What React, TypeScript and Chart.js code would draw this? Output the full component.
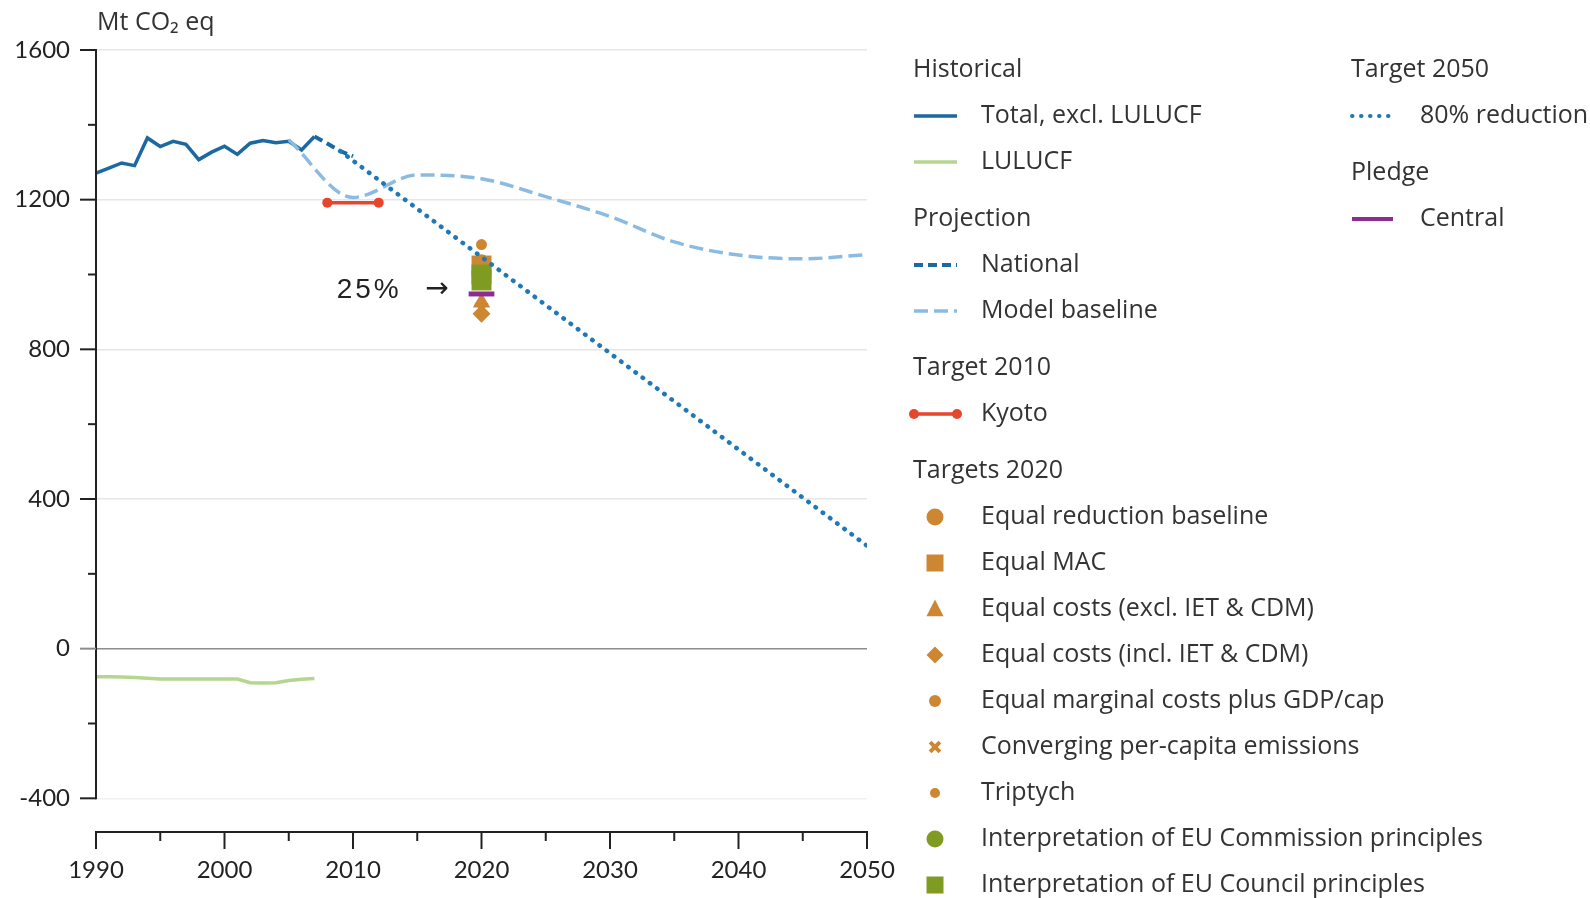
import React, { useEffect, useRef } from 'react';
import { Chart, registerables } from 'chart.js';

Chart.register(...registerables);

// ---------------- data ----------------
const histYears = [1990, 1991, 1992, 1993, 1994, 1995, 1996, 1997, 1998, 1999, 2000, 2001, 2002, 2003, 2004, 2005, 2006, 2007];
const totalExclLulucf = [1271, 1284, 1298, 1291, 1365, 1342, 1356, 1348, 1307, 1327, 1343, 1321, 1351, 1358, 1352, 1356, 1333, 1369];
const lulucfValues = [-75, -75, -76, -77, -79, -81, -81, -81, -81, -81, -81, -81, -91, -92, -91, -85, -82, -80];

const nationalYears = [2007, 2008, 2009, 2010];
const nationalValues = [1369, 1350, 1330, 1316];

const baselineYears = [2005, 2010, 2015, 2020, 2025, 2030, 2035, 2040, 2045, 2050];
const baselineValues = [1360, 1206, 1266, 1256, 1208, 1155, 1087, 1052, 1042, 1053];

const reductionYears = [2009, 2050];
const reductionValues = [1330, 275];

const kyotoYears = [2008, 2012];
const kyotoValues = [1192, 1192];

const pledgeYears = [2019, 2021];
const pledgeValues = [948, 948];

const targetYear = 2020;
const eqReductionBaseline = [1030];
const eqMAC = [1024];
const eqCostsExcl = [925];
const eqCostsIncl = [895];
const eqMarginalGdp = [1035];
const convergingPerCapita = [910];
const triptychValues = [1080];
const euCommission = [990];
const euCouncil = [1000, 984];

const xTickValues = [1990, 1995, 2000, 2005, 2010, 2015, 2020, 2025, 2030, 2035, 2040, 2045, 2050];
const xTickLabels = ['1990', '', '2000', '', '2010', '', '2020', '', '2030', '', '2040', '', '2050'];
const yTickValues = [-400, -200, 0, 200, 400, 600, 800, 1000, 1200, 1400, 1600];
const yTickLabels = ['-400', '', '0', '', '400', '', '800', '', '1200', '', '1600'];

const unitTitle = 'Mt CO₂ eq';
const pledgeNote = '25%';

// ---------------- styles ----------------
const ORANGE = '#cd8733';
const GREEN = '#7f9b21';
const FONT = 'Lato, "Open Sans", sans-serif';
const LEGEND_FONT = '"Open Sans", Lato, sans-serif';
const TEXT = '#333333';

const pts = (xs: number[], ys: number[]) => xs.map((x, i) => ({ x, y: ys[i] }));
const at2020 = (ys: number[]) => ys.map((y) => ({ x: targetYear, y }));

function buildDatasets(): any[] {
  return [
    { key: 'pledge', label: 'Central', type: 'line', data: pts(pledgeYears, pledgeValues), borderColor: '#8c2d8f', borderWidth: 5, pointRadius: 0, order: 0 },
    { key: 'reduction', label: '80% reduction', type: 'line', data: pts(reductionYears, reductionValues), borderColor: '#2079b6', borderWidth: 4.5, borderDash: [0.5, 8.5], borderCapStyle: 'round', pointRadius: 0, order: 1 },
    { key: 'trip', label: 'Triptych', type: 'scatter', data: at2020(triptychValues), pointStyle: 'circle', pointRadius: 5.5, backgroundColor: ORANGE, pointBackgroundColor: ORANGE, pointBorderWidth: 0, order: 2, lgR: 5 },
    { key: 'council', label: 'Interpretation of EU Council principles', type: 'scatter', data: at2020(euCouncil), pointStyle: 'rect', pointRadius: 14.1, backgroundColor: GREEN, pointBackgroundColor: GREEN, pointBorderWidth: 0, order: 3, lgR: 8.5 },
    { key: 'comm', label: 'Interpretation of EU Commission principles', type: 'scatter', data: at2020(euCommission), pointStyle: 'circle', pointRadius: 9, backgroundColor: GREEN, pointBackgroundColor: GREEN, pointBorderWidth: 0, order: 4, lgR: 8.5 },
    { key: 'eqMAC', label: 'Equal MAC', type: 'scatter', data: at2020(eqMAC), pointStyle: 'rect', pointRadius: 14.1, backgroundColor: ORANGE, pointBackgroundColor: ORANGE, pointBorderWidth: 0, order: 5, lgR: 8.5 },
    { key: 'eqMarg', label: 'Equal marginal costs plus GDP/cap', type: 'scatter', data: at2020(eqMarginalGdp), pointStyle: 'circle', pointRadius: 6, backgroundColor: ORANGE, pointBackgroundColor: ORANGE, pointBorderWidth: 0, order: 6, lgR: 6 },
    { key: 'eqRed', label: 'Equal reduction baseline', type: 'scatter', data: at2020(eqReductionBaseline), pointStyle: 'circle', pointRadius: 9, backgroundColor: ORANGE, pointBackgroundColor: ORANGE, pointBorderWidth: 0, order: 7, lgR: 8.5 },
    { key: 'eqExcl', label: 'Equal costs (excl. IET & CDM)', type: 'scatter', data: at2020(eqCostsExcl), pointStyle: 'triangle', pointRadius: 10, backgroundColor: ORANGE, pointBackgroundColor: ORANGE, pointBorderWidth: 0, order: 8, lgR: 9.5 },
    { key: 'conv', label: 'Converging per-capita emissions', type: 'scatter', data: at2020(convergingPerCapita), pointStyle: 'crossRot', pointRadius: 8, borderColor: ORANGE, pointBorderColor: ORANGE, pointBorderWidth: 4, order: 9, lgR: 7 },
    { key: 'eqIncl', label: 'Equal costs (incl. IET & CDM)', type: 'scatter', data: at2020(eqCostsIncl), pointStyle: 'rectRot', pointRadius: 9, backgroundColor: ORANGE, pointBackgroundColor: ORANGE, pointBorderWidth: 0, order: 10, lgR: 8.5 },
    { key: 'kyoto', label: 'Kyoto', type: 'line', data: pts(kyotoYears, kyotoValues), borderColor: '#e7452c', borderWidth: 3.5, pointRadius: 5, pointBackgroundColor: '#e7452c', pointBorderWidth: 0, order: 11 },
    { key: 'national', label: 'National', type: 'line', data: pts(nationalYears, nationalValues), borderColor: '#1b69a0', borderWidth: 4, borderDash: [9, 5], pointRadius: 0, order: 12 },
    { key: 'baseline', label: 'Model baseline', type: 'line', data: pts(baselineYears, baselineValues), borderColor: '#8bbbe3', borderWidth: 3.5, borderDash: [14, 6], cubicInterpolationMode: 'monotone', pointRadius: 0, order: 13 },
    { key: 'total', label: 'Total, excl. LULUCF', type: 'line', data: pts(histYears, totalExclLulucf), borderColor: '#1b69a0', borderWidth: 3.5, pointRadius: 0, order: 14 },
    { key: 'lulucf', label: 'LULUCF', type: 'line', data: pts(histYears, lulucfValues), borderColor: '#b5d690', borderWidth: 3.5, pointRadius: 0, order: 15 },
  ];
}

const legendCol1 = [
  { header: 'Historical' }, { key: 'total' }, { key: 'lulucf' },
  { header: 'Projection' }, { key: 'national' }, { key: 'baseline' },
  { header: 'Target 2010' }, { key: 'kyoto' },
  { header: 'Targets 2020' }, { key: 'eqRed' }, { key: 'eqMAC' }, { key: 'eqExcl' }, { key: 'eqIncl' },
  { key: 'eqMarg' }, { key: 'conv' }, { key: 'trip' }, { key: 'comm' }, { key: 'council' },
];
const legendCol2 = [
  { header: 'Target 2050' }, { key: 'reduction' },
  { header: 'Pledge' }, { key: 'pledge' },
];

function drawMarker(ctx: CanvasRenderingContext2D, style: string, x: number, y: number, r: number, color: string) {
  ctx.save();
  ctx.fillStyle = color;
  ctx.strokeStyle = color;
  ctx.beginPath();
  if (style === 'circle') {
    ctx.arc(x, y, r, 0, Math.PI * 2);
    ctx.fill();
  } else if (style === 'rect') {
    ctx.rect(x - r, y - r, 2 * r, 2 * r);
    ctx.fill();
  } else if (style === 'triangle') {
    ctx.moveTo(x, y - r);
    ctx.lineTo(x + r * 0.9, y + r * 0.75);
    ctx.lineTo(x - r * 0.9, y + r * 0.75);
    ctx.closePath();
    ctx.fill();
  } else if (style === 'rectRot') {
    ctx.moveTo(x, y - r);
    ctx.lineTo(x + r, y);
    ctx.lineTo(x, y + r);
    ctx.lineTo(x - r, y);
    ctx.closePath();
    ctx.fill();
  } else if (style === 'crossRot') {
    ctx.lineWidth = 4;
    ctx.moveTo(x - r * 0.7, y - r * 0.7);
    ctx.lineTo(x + r * 0.7, y + r * 0.7);
    ctx.moveTo(x + r * 0.7, y - r * 0.7);
    ctx.lineTo(x - r * 0.7, y + r * 0.7);
    ctx.stroke();
  }
  ctx.restore();
}

function drawLegendColumn(chart: any, entries: any[], x0: number, textX: number, symW: number) {
  const ctx: CanvasRenderingContext2D = chart.ctx;
  let y = 70;
  entries.forEach((e, i) => {
    if (i > 0) y += e.header ? 57 : 46;
    ctx.fillStyle = TEXT;
    ctx.font = `25px ${LEGEND_FONT}`;
    ctx.textBaseline = 'middle';
    ctx.textAlign = 'left';
    if (e.header) {
      ctx.fillText(e.header, x0, y);
      return;
    }
    const ds = chart.data.datasets.find((d: any) => d.key === e.key);
    if (!ds) return;
    if (ds.type === 'scatter') {
      drawMarker(ctx, ds.pointStyle, x0 + 22, y, ds.lgR, ds.pointBackgroundColor || ds.pointBorderColor);
    } else {
      ctx.save();
      ctx.strokeStyle = ds.borderColor;
      ctx.lineWidth = Math.min(ds.borderWidth, 4);
      ctx.lineCap = ds.borderCapStyle || 'butt';
      ctx.setLineDash(ds.borderDash || []);
      ctx.beginPath();
      ctx.moveTo(x0 + 1, y);
      ctx.lineTo(x0 + symW, y);
      ctx.stroke();
      ctx.restore();
      if (ds.pointRadius > 0) {
        drawMarker(ctx, 'circle', x0 + 1, y, ds.pointRadius, ds.pointBackgroundColor);
        drawMarker(ctx, 'circle', x0 + symW, y, ds.pointRadius, ds.pointBackgroundColor);
      }
    }
    ctx.fillStyle = TEXT;
    ctx.fillText(ds.label, textX, y);
  });
}

const decorPlugin = {
  id: 'decor',
  afterDraw(chart: any) {
    const ctx: any = chart.ctx;
    const xs = chart.scales.x;
    const ys = chart.scales.y;
    const area = chart.chartArea;
    ctx.save();
    // y axis line
    ctx.strokeStyle = '#222';
    ctx.lineWidth = 2;
    ctx.beginPath();
    ctx.moveTo(area.left, ys.getPixelForValue(yTickValues[yTickValues.length - 1]) - 1);
    ctx.lineTo(area.left, ys.getPixelForValue(yTickValues[0]) + 1);
    ctx.stroke();
    // y ticks
    yTickValues.forEach((v, i) => {
      const py = ys.getPixelForValue(v);
      const len = yTickLabels[i] ? 16 : 8;
      ctx.strokeStyle = v === 0 ? '#8c8c8c' : '#222';
      ctx.beginPath();
      ctx.moveTo(area.left - len, py);
      ctx.lineTo(area.left, py);
      ctx.stroke();
    });
    // x ticks
    ctx.strokeStyle = '#222';
    xTickValues.forEach((v, i) => {
      const px = xs.getPixelForValue(v);
      const len = xTickLabels[i] ? 17 : 9;
      ctx.beginPath();
      ctx.moveTo(px, area.bottom);
      ctx.lineTo(px, area.bottom + len);
      ctx.stroke();
    });
    // unit title
    ctx.fillStyle = TEXT;
    ctx.font = `25px ${LEGEND_FONT}`;
    ctx.textBaseline = 'middle';
    ctx.textAlign = 'left';
    ctx.fillText(unitTitle, area.left + 1, 23);
    // 25% annotation
    const py = ys.getPixelForValue(pledgeValues[0]) - 4;
    const arrowRight = xs.getPixelForValue(pledgeYears[0]) - 20;
    ctx.fillStyle = '#222';
    ctx.textAlign = 'right';
    ctx.font = '28px "DejaVu Sans", sans-serif';
    ctx.fillText('→', arrowRight, py);
    ctx.font = '28px "Liberation Sans", Arial, sans-serif';
    ctx.textAlign = 'left';
    try { ctx.letterSpacing = '3px'; } catch (e) { /* ignore */ }
    ctx.fillText(pledgeNote, arrowRight - 112, py);
    try { ctx.letterSpacing = '0px'; } catch (e) { /* ignore */ }
    ctx.restore();

    drawLegendColumn(chart, legendCol1, 913, 981, 44);
    drawLegendColumn(chart, legendCol2, 1351, 1420, 42);
  },
};

export default function App() {
  const ref = useRef<HTMLCanvasElement | null>(null);
  useEffect(() => {
    document.body.style.margin = '0';
    const canvas = ref.current;
    if (!canvas) return;
    const chart = new Chart(canvas, {
      type: 'line',
      data: { datasets: buildDatasets() },
      options: {
        animation: false,
        responsive: false,
        maintainAspectRatio: false,
        layout: { padding: { top: 50, right: 723, left: 0, bottom: 0 } },
        plugins: { legend: { display: false }, tooltip: { enabled: false }, title: { display: false } },
        scales: {
          x: {
            type: 'linear',
            min: 1990,
            max: 2050,
            afterFit: (s: any) => { s.height = 66; },
            afterBuildTicks: (s: any) => { s.ticks = xTickValues.map((v) => ({ value: v })); },
            ticks: {
              autoSkip: false,
              maxRotation: 0,
              padding: 24,
              color: '#222',
              font: { family: FONT, size: 24 },
              callback: (_v: any, i: number) => xTickLabels[i],
            },
            grid: { display: false, drawTicks: false },
            border: { display: true, color: '#222', width: 2 },
          },
          y: {
            type: 'linear',
            min: -490,
            max: 1600,
            afterFit: (s: any) => { s.width = 96; },
            afterBuildTicks: (s: any) => { s.ticks = yTickValues.map((v) => ({ value: v })); },
            ticks: {
              autoSkip: false,
              padding: 26,
              color: '#222',
              font: { family: FONT, size: 24 },
              callback: (_v: any, i: number) => yTickLabels[i],
            },
            grid: {
              drawTicks: false,
              lineWidth: 1.5,
              color: (c: any) => {
                const v = c.tick ? c.tick.value : null;
                if (v === 0) return '#8c8c8c';
                const idx = yTickValues.indexOf(v);
                if (idx >= 0 && yTickLabels[idx]) return v === -400 ? '#f0f0f0' : '#e6e6e6';
                return 'rgba(0,0,0,0)';
              },
            },
            border: { display: false },
          },
        },
      } as any,
      plugins: [decorPlugin],
    } as any);
    return () => chart.destroy();
  }, []);
  return (
    <div style={{ width: 1590, height: 898, background: '#fff' }}>
      <canvas ref={ref} width={1590} height={898} style={{ display: 'block' }} />
    </div>
  );
}
